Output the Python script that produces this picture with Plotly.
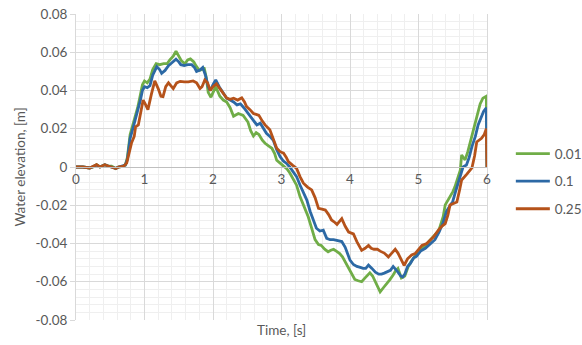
import plotly.graph_objects as go

series_names = ["0.01", "0.1", "0.25"]

t_001 = [0, 0.1, 0.2, 0.25, 0.3, 0.35, 0.42, 0.47, 0.52, 0.58, 0.62, 0.68, 0.72, 0.75, 0.79, 0.83, 0.86, 0.9, 0.93, 0.97,
         1.0, 1.04, 1.08, 1.12, 1.17, 1.22, 1.28, 1.33, 1.37, 1.42, 1.46, 1.5, 1.54, 1.59, 1.63, 1.67, 1.72, 1.75, 1.8, 1.84,
         1.87, 1.9, 1.93, 1.97, 2.01, 2.04, 2.1, 2.15, 2.2, 2.25, 2.3, 2.37, 2.44, 2.51, 2.55, 2.59, 2.63, 2.67, 2.72, 2.76,
         2.81, 2.86, 2.9, 2.93, 2.98, 3.03, 3.08, 3.12, 3.17, 3.22, 3.27, 3.32, 3.39, 3.44, 3.49, 3.54, 3.58, 3.63, 3.68, 3.72,
         3.76, 3.8, 3.85, 3.89, 3.92, 3.96, 4.0, 4.04, 4.07, 4.12, 4.17, 4.22, 4.29, 4.33, 4.37, 4.41, 4.44, 4.49, 4.54, 4.58,
         4.63, 4.67, 4.7, 4.75, 4.8, 4.85, 4.9, 4.97, 5.03, 5.1, 5.15, 5.2, 5.25, 5.29, 5.33, 5.36, 5.39, 5.42, 5.46, 5.5,
         5.53, 5.57, 5.61, 5.63, 5.66, 5.68, 5.72, 5.75, 5.8, 5.85, 5.9, 5.94, 5.99, 6.0]
y_001 = [0, 0, -0.0005, 0, 0.0012, 0, 0.0012, 0.0005, 0.0005, -0.0008, 0, 0.0003, 0.001, 0.005, 0.017, 0.022, 0.026, 0.031, 0.036, 0.043,
         0.045, 0.044, 0.046, 0.051, 0.054, 0.0535, 0.054, 0.054, 0.056, 0.058, 0.0605, 0.058, 0.0555, 0.054, 0.056, 0.0565, 0.055, 0.053, 0.0505, 0.051,
         0.052, 0.047, 0.039, 0.0365, 0.04, 0.042, 0.037, 0.035, 0.034, 0.031, 0.0265, 0.028, 0.027, 0.0235, 0.019, 0.0162, 0.018, 0.017, 0.014, 0.0124,
         0.011, 0.0098, 0.007, 0.0035, 0.002, 0.0005, -0.001, -0.003, -0.006, -0.0095, -0.0155, -0.02, -0.026, -0.032, -0.038, -0.0405, -0.041, -0.043, -0.0443, -0.0435,
         -0.043, -0.044, -0.0453, -0.047, -0.049, -0.052, -0.0548, -0.057, -0.0588, -0.0595, -0.06, -0.058, -0.0553, -0.057, -0.06, -0.063, -0.0653, -0.063, -0.061, -0.059,
         -0.0565, -0.054, -0.053, -0.058, -0.057, -0.052, -0.049, -0.046, -0.043, -0.041, -0.039, -0.037, -0.035, -0.034, -0.03, -0.026, -0.0198, -0.018, -0.0157, -0.013,
         -0.0105, -0.006, -0.0016, 0.0063, 0.005, 0.0037, 0.008, 0.0124, 0.019, 0.0263, 0.033, 0.036, 0.037, 0]

t_01 = [0, 0.1, 0.2, 0.3, 0.35, 0.42, 0.47, 0.58, 0.62, 0.72, 0.75, 0.79, 0.83, 0.87, 0.9, 0.94, 0.97, 1.0, 1.04, 1.08,
        1.12, 1.18, 1.22, 1.25, 1.3, 1.35, 1.4, 1.46, 1.5, 1.53, 1.58, 1.63, 1.69, 1.73, 1.76, 1.81, 1.85, 1.89, 1.93, 1.96,
        2.0, 2.04, 2.09, 2.14, 2.2, 2.25, 2.3, 2.35, 2.4, 2.45, 2.49, 2.54, 2.59, 2.64, 2.69, 2.74, 2.78, 2.83, 2.88, 2.93,
        2.98, 3.03, 3.07, 3.12, 3.17, 3.22, 3.27, 3.32, 3.37, 3.42, 3.47, 3.51, 3.56, 3.61, 3.66, 3.71, 3.76, 3.82, 3.88, 3.93,
        3.97, 4.0, 4.05, 4.1, 4.15, 4.19, 4.23, 4.27, 4.32, 4.37, 4.42, 4.46, 4.5, 4.54, 4.59, 4.63, 4.67, 4.7, 4.74, 4.77,
        4.8, 4.84, 4.88, 4.93, 4.97, 5.03, 5.1, 5.17, 5.24, 5.3, 5.36, 5.41, 5.46, 5.5, 5.54, 5.58, 5.62, 5.65, 5.7, 5.74,
        5.78, 5.83, 5.87, 5.91, 5.95, 5.99, 6.0]
y_01 = [0, 0, -0.0005, 0.001, 0, 0.0012, 0.0005, -0.0008, 0, 0.001, 0.004, 0.015, 0.02, 0.025, 0.029, 0.035, 0.04, 0.042, 0.0415, 0.0425,
        0.048, 0.0525, 0.051, 0.049, 0.0505, 0.053, 0.0545, 0.0564, 0.055, 0.0535, 0.053, 0.0535, 0.0535, 0.052, 0.05, 0.0507, 0.052, 0.048, 0.042, 0.04,
        0.043, 0.0455, 0.042, 0.039, 0.036, 0.035, 0.034, 0.0325, 0.033, 0.031, 0.029, 0.027, 0.0246, 0.022, 0.0229, 0.02, 0.0176, 0.016, 0.014, 0.009,
        0.0054, 0.003, 0.002, 0, -0.0024, -0.005, -0.0094, -0.013, -0.0173, -0.0234, -0.028, -0.032, -0.0335, -0.033, -0.0373, -0.038, -0.038, -0.0385, -0.039, -0.042,
        -0.046, -0.0487, -0.051, -0.052, -0.0525, -0.053, -0.053, -0.0513, -0.053, -0.055, -0.056, -0.056, -0.0555, -0.055, -0.054, -0.052, -0.0535, -0.055, -0.057, -0.0575,
        -0.056, -0.052, -0.0505, -0.0475, -0.0467, -0.044, -0.0425, -0.04, -0.038, -0.034, -0.029, -0.023, -0.02, -0.018, -0.013, -0.0085, -0.004, 0, 0.001, 0.005,
        0.0107, 0.016, 0.022, 0.026, 0.029, 0.031, 0]

t_025 = [0, 0.1, 0.2, 0.3, 0.35, 0.42, 0.47, 0.58, 0.62, 0.7, 0.74, 0.78, 0.81, 0.85, 0.87, 0.91, 0.95, 0.98, 1.01, 1.05,
         1.1, 1.15, 1.2, 1.24, 1.27, 1.31, 1.35, 1.39, 1.42, 1.47, 1.52, 1.58, 1.64, 1.71, 1.76, 1.81, 1.84, 1.88, 1.92, 1.96,
         2.0, 2.05, 2.1, 2.14, 2.2, 2.25, 2.3, 2.36, 2.42, 2.46, 2.49, 2.54, 2.59, 2.63, 2.67, 2.72, 2.76, 2.83, 2.88, 2.93,
         2.98, 3.03, 3.07, 3.1, 3.16, 3.22, 3.27, 3.32, 3.38, 3.44, 3.49, 3.54, 3.59, 3.64, 3.69, 3.73, 3.78, 3.81, 3.88, 3.93,
         3.98, 4.05, 4.1, 4.17, 4.22, 4.27, 4.31, 4.35, 4.4, 4.44, 4.5, 4.56, 4.61, 4.66, 4.7, 4.73, 4.79, 4.84, 4.9, 4.95,
         5.0, 5.05, 5.12, 5.17, 5.22, 5.29, 5.34, 5.39, 5.43, 5.46, 5.51, 5.56, 5.6, 5.63, 5.7, 5.74, 5.78, 5.82, 5.85, 5.92,
         5.96, 5.99, 6.0]
y_025 = [0, 0, -0.0005, 0.0012, 0, 0.0012, 0.0005, -0.0008, 0, 0.0005, 0.002, 0.008, 0.0125, 0.016, 0.021, 0.022, 0.03, 0.035, 0.033, 0.03,
         0.038, 0.045, 0.041, 0.037, 0.0368, 0.042, 0.044, 0.042, 0.041, 0.044, 0.0448, 0.0445, 0.0445, 0.045, 0.044, 0.041, 0.042, 0.0455, 0.044, 0.04,
         0.042, 0.0435, 0.041, 0.0386, 0.036, 0.0354, 0.036, 0.035, 0.0362, 0.034, 0.0316, 0.03, 0.028, 0.0275, 0.027, 0.024, 0.022, 0.0195, 0.015, 0.0098,
         0.008, 0.0072, 0.005, 0.0028, 0.001, -0.0007, -0.005, -0.0085, -0.0105, -0.012, -0.016, -0.0216, -0.022, -0.0225, -0.025, -0.0277, -0.029, -0.03, -0.027, -0.031,
         -0.034, -0.035, -0.039, -0.0436, -0.0425, -0.041, -0.0425, -0.043, -0.043, -0.044, -0.045, -0.047, -0.045, -0.043, -0.045, -0.047, -0.0515, -0.048, -0.046, -0.0453,
         -0.043, -0.041, -0.04, -0.038, -0.0365, -0.033, -0.031, -0.0296, -0.025, -0.0199, -0.019, -0.0183, -0.012, -0.0068, -0.004, -0.002, -0.0005, 0.006, 0.0131, 0.015,
         0.017, 0.02, 0]

x_ticks = [0, 1, 2, 3, 4, 5, 6]
y_ticks = [-0.08, -0.06, -0.04, -0.02, 0, 0.02, 0.04, 0.06, 0.08]
y_tick_labels = ["-0.08", "-0.06", "-0.04", "-0.02", "0", "0.02", "0.04", "0.06", "0.08"]

colors = ["#70AD47", "#2C69A5", "#B5521A"]
FONT = "Lato"
FS = 13.5
TXT = "#595959"

fig = go.Figure()
for name, tx, ty, c in zip(series_names, [t_001, t_01, t_025], [y_001, y_01, y_025], colors):
    fig.add_trace(go.Scatter(x=tx, y=ty, mode="lines", name=name, legendgroup=name,
                             line=dict(color=c, width=2.8)))

fig.update_layout(
    width=582, height=345,
    margin=dict(l=76, r=95, t=14, b=25, autoexpand=False),
    paper_bgcolor="white", plot_bgcolor="white",
    font=dict(family=FONT, size=FS, color=TXT),
    showlegend=True,
    legend=dict(x=1.058, y=0.453, xanchor="left", yanchor="middle",
                font=dict(family=FONT, size=FS, color=TXT),
                itemwidth=34, tracegroupgap=7, bgcolor="rgba(0,0,0,0)"),
    xaxis=dict(range=[0, 6], tickvals=x_ticks, ticktext=[str(v) for v in x_ticks],
               anchor="free", position=0.5, automargin=False,
               showgrid=True, gridcolor="#D9D9D9", gridwidth=1,
               minor=dict(dtick=0.2, showgrid=True, gridcolor="#EFEFEF", gridwidth=1),
               showline=True, linecolor="#BFBFBF", linewidth=1,
               zeroline=False, ticks="", tickfont=dict(family=FONT, size=FS, color=TXT)),
    yaxis=dict(range=[-0.08, 0.08], tickvals=y_ticks, ticktext=y_tick_labels, automargin=False,
               showgrid=True, gridcolor="#D9D9D9", gridwidth=1,
               minor=dict(dtick=0.004, showgrid=True, gridcolor="#EFEFEF", gridwidth=1),
               showline=True, linecolor="#D9D9D9", linewidth=1, mirror=True,
               zeroline=False, ticks="outside", ticklen=5, tickcolor="#D9D9D9",
               tickfont=dict(family=FONT, size=FS, color=TXT),
               title=dict(text="Water elevation, [m]", font=dict(family=FONT, size=FS, color=TXT), standoff=6)),
    annotations=[dict(text="Time, [s]", x=0.5, y=-0.033, xref="paper", yref="paper",
                      xanchor="center", yanchor="middle", showarrow=False,
                      font=dict(family=FONT, size=FS, color=TXT))],
)

fig.write_html("out.html", config={"displayModeBar": False},
               post_script="document.body.style.margin='0';")
